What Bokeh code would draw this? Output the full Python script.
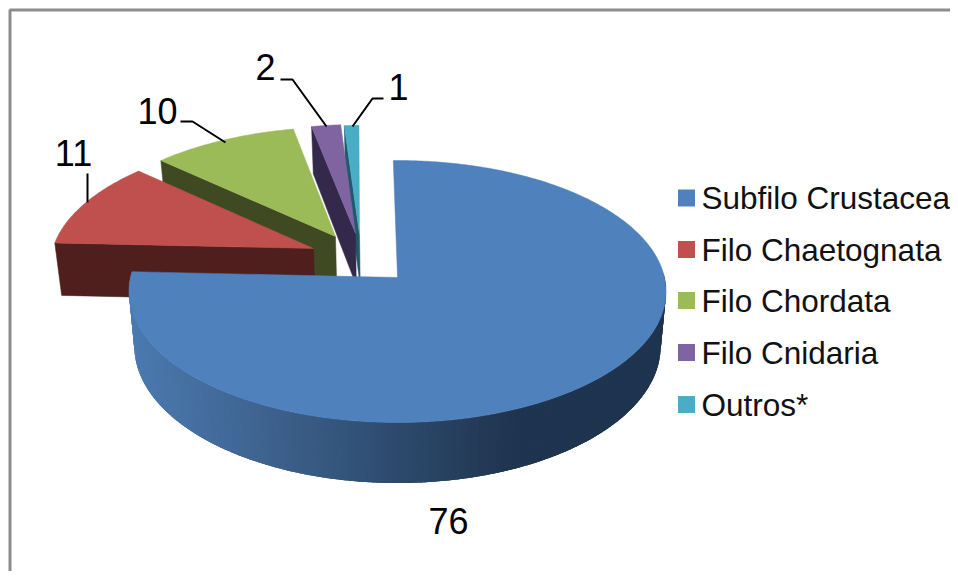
import numpy as np
from bokeh.embed import file_html
from bokeh.models import ColumnDataSource, Range1d
from bokeh.plotting import figure
from bokeh.resources import INLINE
from bokeh.core.properties import value

# ---- data ----
categories = ["Subfilo Crustacea", "Filo Chaetognata", "Filo Chordata", "Filo Cnidaria", "Outros*"]
values = [76, 11, 10, 2, 1]

# ---- style ----
top_colors = ["#4f81bd", "#c0504d", "#9bbb59", "#8064a2", "#4bacc6"]
wall_colors = ["#1f344f", "#4f1f1e", "#3f4a22", "#35294b", "#1f5a6b"]
FONT = "Liberation Sans"

# ---- layout (picture pixels; the ranges below map these pixels to the plot) ----
X0, Y0 = 397.0, 277.0       # apex of the first slice
A, B, K = 267.0, 129.5, 0.107  # ellipse axes and perspective factor
DEPTH, BOTTOM_X = 54.0, 0.98
ROTATION = -1.0
apex_px = [(397, 277), (313, 248), (335, 236), (355, 233), (359, 234)]
label_px = [(448, 520), (73, 152), (157, 110), (265, 66), (398, 86)]
leaders = [
    None,
    ([87, 87], [173, 202]),
    ([180, 192, 225], [121, 121, 142]),
    ([280, 292, 326], [79, 79, 126]),
    ([383, 372, 352], [98, 98, 126]),
]
legend_x, legend_text_x = 686, 701
legend_y = [197.5, 249, 300, 352, 404]


def project(u, v):
    w = 1 + K * v
    return X0 + A * u / w, Y0 - B * v / w


def bottom(u, v):
    x, y = project(u, v)
    return X0 + (x - X0) * BOTTOM_X, y + DEPTH / (1 + K * v)


def unproject(px, py):
    y = Y0 - py
    v = y / (B - K * y)
    return (px - X0) * (1 + K * v) / A, v


def rim(c, deg):
    t = np.radians(deg)
    return c[0] + np.sin(t), c[1] + np.cos(t)


W, H = 950, 571
p = figure(width=W, height=H, output_backend="svg", toolbar_location=None,
           x_range=Range1d(0, W), y_range=Range1d(H, 0),
           min_border=0, outline_line_color=None)
p.axis.visible = False
p.grid.visible = False

# chart frame
p.line([9.5, 9.5, W], [H, 9.5, 9.5], line_color="#8c8c8c", line_width=3)

total = sum(values)
edges = np.cumsum([0] + values) / total * 360 + ROTATION


def blue_side(x):
    stops_x = [130, 250, 350, 450, 515, 670]
    stops = np.array([[74, 122, 176], [64, 101, 146], [50, 83, 121], [39, 64, 95], [31, 52, 79], [31, 52, 79]])
    c = [int(round(np.interp(x, stops_x, stops[:, i]))) for i in range(3)]
    return "#%02x%02x%02x" % tuple(c)


# slices from back to front
for i in range(len(values) - 1, -1, -1):
    c = unproject(*apex_px[i])
    a0, a1 = edges[i], edges[i + 1]
    n = max(4, int((a1 - a0) * 1.5))
    angles = np.linspace(a0, a1, n)
    if i == 0:
        # curved outer wall of the big slice, each strip painted over the overlap of the last
        vis = np.linspace(88, a1, 200)
        xs, ys, cols = [], [], []
        for d0, d1 in zip(vis[:-1], vis[1:]):
            d1x = min(d1 + 1.5, a1)
            pts_t = [rim(c, d) for d in (d0, d1, d1x)]
            top = [project(*q) for q in pts_t]
            bot = [bottom(*q) for q in pts_t]
            xs.append([q[0] for q in top] + [q[0] for q in bot[::-1]])
            ys.append([q[1] for q in top] + [q[1] for q in bot[::-1]])
            cols.append(blue_side((top[0][0] + top[1][0]) / 2))
        p.patches(xs, ys, fill_color=cols, line_color=None)
    else:
        # visible cut face on the leading edge
        e = rim(c, a0)
        pe, be, pc, bc = project(*e), bottom(*e), project(*c), bottom(*c)
        p.patch([pe[0], pc[0], bc[0], be[0]], [pe[1], pc[1], bc[1], be[1]],
                fill_color=wall_colors[i], line_color=wall_colors[i], line_width=0.5)
    pts = [project(*rim(c, d)) for d in angles]
    xs = [project(*c)[0]] + [q[0] for q in pts]
    ys = [project(*c)[1]] + [q[1] for q in pts]
    p.patch(xs, ys, fill_color=top_colors[i], line_color=top_colors[i], line_width=0.5)

# leader lines
for seg in leaders:
    if seg:
        p.line(seg[0], seg[1], line_color="black", line_width=2)

# data labels
lab = ColumnDataSource(dict(x=[q[0] for q in label_px], y=[q[1] for q in label_px],
                            t=[str(v) for v in values]))
p.text("x", "y", text="t", source=lab, text_font=value(FONT), text_font_size="36px",
       text_align="center", text_baseline="middle", text_color="black")

# legend
leg = ColumnDataSource(dict(x=[legend_x] * 5, tx=[legend_text_x] * 5, y=legend_y,
                            t=categories, c=top_colors))
p.scatter("x", "y", source=leg, marker="square", size=17, fill_color="c", line_color=None)
p.text("tx", "y", text="t", source=leg, text_font=value(FONT), text_font_size="31.5px",
       text_align="left", text_baseline="middle", text_color="#111111")

open("out.html", "w").write(file_html(p, INLINE))
